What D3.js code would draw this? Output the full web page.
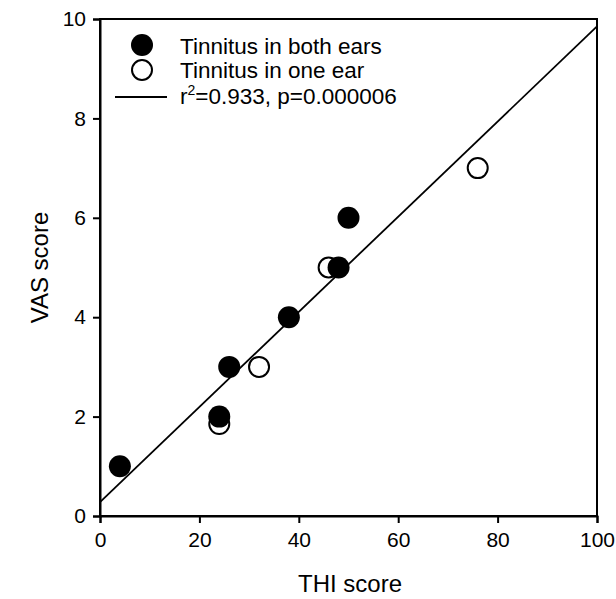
<!DOCTYPE html>
<html><head><meta charset="utf-8">
<script src="https://cdn.jsdelivr.net/npm/d3@7"></script>
<style>body{margin:0;background:#fff;} text{font-family:"Liberation Sans",Arial,sans-serif;}</style>
</head><body>
<svg id="c" width="616" height="599"></svg>
<script>
const bothX = [4, 24, 26, 38, 48, 50];
const bothY = [1, 2, 3, 4, 5, 6];
const oneX = [24, 32, 46, 76];
const oneY = [1.85, 3, 5, 7];
const xTicks = [0, 20, 40, 60, 80, 100];
const yTicks = [0, 2, 4, 6, 8, 10];
const fitIntercept = 0.28;
const fitSlope = 0.0957;
const legendLabels = ["Tinnitus in both ears", "Tinnitus in one ear", "=0.933, p=0.000006"];

const svg = d3.select("#c");
const L = 100, R = 597, T = 19, B = 516;
const x = d3.scaleLinear().domain([0, 100]).range([L, R]);
const y = d3.scaleLinear().domain([0, 10]).range([B, T]);

// frame
svg.append("rect").attr("x", L).attr("y", T).attr("width", R - L).attr("height", B - T)
  .attr("fill", "none").attr("stroke", "#000").attr("stroke-width", 2);

const xa = svg.append("g").attr("transform", `translate(0,${B})`)
  .call(d3.axisBottom(x).tickValues(xTicks).tickSize(7).tickPadding(9).tickFormat(d3.format("d")));
const ya = svg.append("g").attr("transform", `translate(${L},0)`)
  .call(d3.axisLeft(y).tickValues(yTicks).tickSize(7).tickPadding(7).tickFormat(d3.format("d")));
[xa, ya].forEach(a => {
  a.select(".domain").attr("stroke-width", 2);
  a.selectAll(".tick line").attr("stroke-width", 2);
  a.selectAll(".tick text").attr("font-size", 21).attr("fill", "#000")
    .style("font-family", "Liberation Sans, Arial, sans-serif");
});

// regression line
svg.append("line")
  .attr("x1", x(0)).attr("y1", y(fitIntercept))
  .attr("x2", x(100)).attr("y2", y(fitIntercept + fitSlope * 100))
  .attr("stroke", "#000").attr("stroke-width", 1.8);

// open circles
svg.selectAll("circle.one").data(oneX.map((v, i) => [v, oneY[i]])).enter()
  .append("circle").attr("class", "one")
  .attr("cx", d => x(d[0])).attr("cy", d => y(d[1])).attr("r", 10)
  .attr("fill", "#fff").attr("stroke", "#000").attr("stroke-width", 2);
// filled circles
svg.selectAll("circle.both").data(bothX.map((v, i) => [v, bothY[i]])).enter()
  .append("circle").attr("class", "both")
  .attr("cx", d => x(d[0])).attr("cy", d => y(d[1])).attr("r", 11)
  .attr("fill", "#000");

// axis titles
svg.append("text").attr("x", 350).attr("y", 592).attr("text-anchor", "middle")
  .attr("font-size", 24).text("THI score");
svg.append("text").attr("transform", `translate(48,${(T + B) / 2}) rotate(-90)`)
  .attr("text-anchor", "middle").attr("font-size", 24).text("VAS score");

// legend
const lg = svg.append("g");
lg.append("circle").attr("cx", 142).attr("cy", 45).attr("r", 11).attr("fill", "#000");
lg.append("text").attr("x", 180).attr("y", 54).attr("font-size", 22.5).text(legendLabels[0]);
lg.append("circle").attr("cx", 142).attr("cy", 70).attr("r", 10).attr("fill", "#fff")
  .attr("stroke", "#000").attr("stroke-width", 2);
lg.append("text").attr("x", 180).attr("y", 78).attr("font-size", 22.5).text(legendLabels[1]);
lg.append("line").attr("x1", 115).attr("x2", 167).attr("y1", 97).attr("y2", 97)
  .attr("stroke", "#000").attr("stroke-width", 1.8);
const t3 = lg.append("text").attr("x", 180).attr("y", 104).attr("font-size", 22.5);
t3.append("tspan").text("r");
t3.append("tspan").attr("font-size", 14).attr("dy", -9).text("2");
t3.append("tspan").attr("dy", 9).text(legendLabels[2]);
</script>
</body></html>
